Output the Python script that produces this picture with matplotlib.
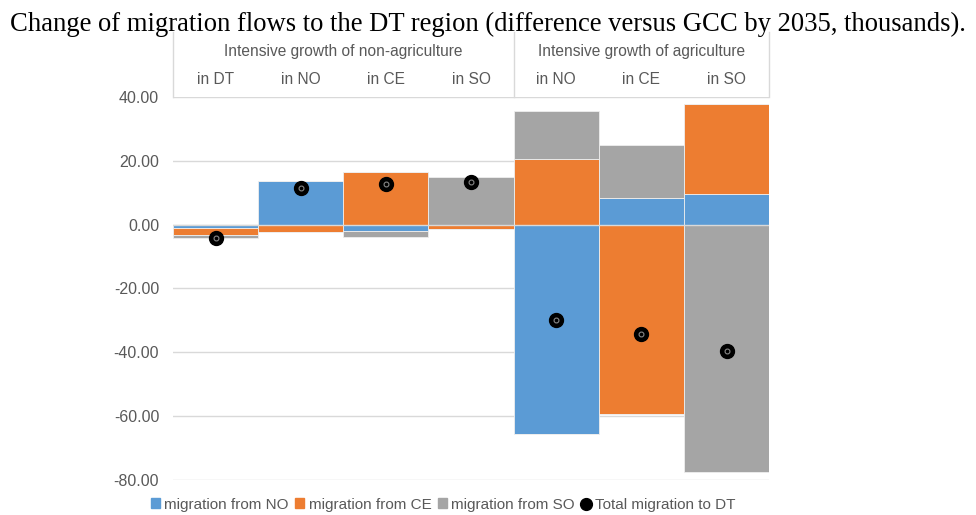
import numpy as np
import matplotlib.pyplot as plt
from matplotlib.patches import Patch
from matplotlib.lines import Line2D

# data
cats = ['in DT', 'in NO', 'in CE', 'in SO', 'in NO', 'in CE', 'in SO']
groups = ['Intensive growth of non-agriculture', 'Intensive growth of agriculture']
from_no = [-0.9, 13.7, -2.0, 0.0, -65.6, 8.2, 9.6]
from_ce = [-2.5, -2.3, 16.4, -1.5, 20.6, -59.2, 28.3]
from_so = [-0.9, 0.0, -1.8, 14.9, 15.0, 16.7, -77.6]
total = [a + b + c for a, b, c in zip(from_no, from_ce, from_so)]

names = ['migration from NO', 'migration from CE', 'migration from SO', 'Total migration to DT']
colors = ['#5B9BD5', '#ED7D31', '#A5A5A5']
txt = '#595959'
grid = '#D9D9D9'

fig = plt.figure(figsize=(9.76, 5.15), dpi=100)
ax = fig.add_axes([0.1773, 0.068, 0.6107, 0.7437])

x = np.arange(len(cats))
pos = np.zeros(len(cats))
neg = np.zeros(len(cats))
for vals, col in zip([from_no, from_ce, from_so], colors):
    v = np.array(vals)
    p = np.where(v > 0, v, 0)
    n = np.where(v < 0, v, 0)
    ax.bar(x, p, 1.0, bottom=pos, color=col, edgecolor='#eeeeee', linewidth=0.6, zorder=2)
    ax.bar(x, n, 1.0, bottom=neg, color=col, edgecolor='#eeeeee', linewidth=0.6, zorder=2)
    pos += p
    neg += n

ax.plot(x, total, 'o', ms=10, color='black', zorder=4)
ax.plot(x, total, 'o', ms=3.5, mfc='none', mec='#888888', mew=0.8, zorder=5)

ax.set_xlim(-0.5, 6.5)
ax.set_ylim(-80, 40)
ax.set_yticks(np.arange(-80, 41, 20))
ax.set_yticklabels(['%.2f' % t for t in np.arange(-80, 41, 20)], color=txt, fontsize=11.5,
                   family='Liberation Sans')
ax.tick_params(axis='y', length=0, pad=10)
ax.set_xticks([])
ax.grid(axis='y', color=grid, lw=1, zorder=0)
for s in ax.spines.values():
    s.set_visible(False)
ax.axhline(0, color=grid, lw=1, zorder=3)

# header table on top
tr = ax.get_xaxis_transform()
for xv in [-0.5, 3.5, 6.5]:
    ax.plot([xv, xv], [1.0, 1.17], color=grid, lw=1, transform=tr, clip_on=False)
for i, c in enumerate(cats):
    ax.text(i, 1.045, c, transform=tr, ha='center', va='center', color=txt, fontsize=11.2,
            family='Liberation Sans')
ax.text(1.5, 1.118, groups[0], transform=tr, ha='center', va='center', color=txt, fontsize=11.2,
        family='Liberation Sans')
ax.text(5.0, 1.118, groups[1], transform=tr, ha='center', va='center', color=txt, fontsize=11.2,
        family='Liberation Sans')

fig.text(0.5, 0.952, 'Change of migration flows to the DT region (difference versus GCC by 2035, thousands).',
         ha='center', va='center', fontsize=19.2, family='Liberation Serif')

handles = [Patch(color=c) for c in colors]
handles.append(Line2D([], [], marker='o', color='black', ls='none', ms=8.5))
leg = fig.legend(handles, names, loc='center', bbox_to_anchor=(0.454, 0.02), ncol=4, frameon=False,
                 handlelength=0.6, handleheight=0.6, handletextpad=0.3, columnspacing=0.4,
                 prop={'family': 'Liberation Sans', 'size': 11})
for t in leg.get_texts():
    t.set_color(txt)

plt.savefig('out.png', dpi=100)
